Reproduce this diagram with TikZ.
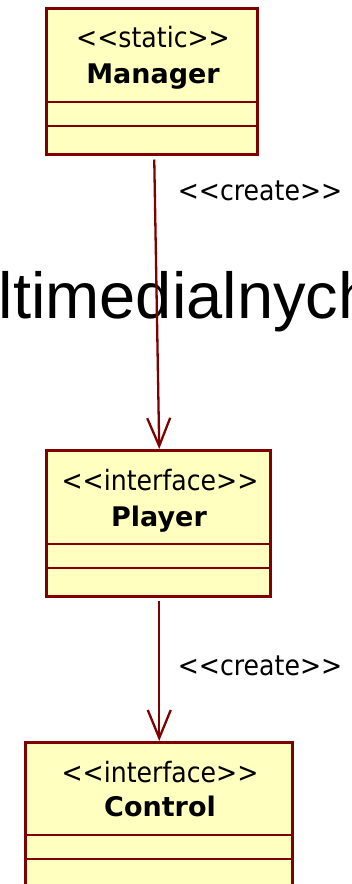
\documentclass[tikz,border=0pt]{standalone}
\usepackage{fontspec}
\newfontfamily\umlfont{DejaVu Sans Condensed}
\newfontfamily\umlboldfont{DejaVu Sans Bold}
\newfontfamily\bannerfont{Liberation Sans}
\usetikzlibrary{arrows.meta}
\definecolor{umlred}{RGB}{128,0,0}
\definecolor{umlfill}{RGB}{255,255,192}
\begin{document}
\begin{tikzpicture}[x=1pt,y=-1pt,
  classbox/.style={draw=umlred, fill=umlfill, line width=2.5pt, anchor=north west, inner sep=0pt},
  divider/.style={draw=umlred, line width=2.5pt},
  stereo/.style={font=\umlfont\fontsize{28}{33}\selectfont, inner sep=0pt, anchor=base},
  cname/.style={font=\umlboldfont\fontsize{27}{32}\selectfont, inner sep=0pt, anchor=base},
  dep/.style={draw=umlred, line width=2.3pt, -{Straight Barb[length=28pt,width=23pt]}},
  deplabel/.style={font=\umlfont\fontsize{28}{33}\selectfont, inner sep=0pt, anchor=base}
]
\useasboundingbox (0,0) rectangle (351,884);
\clip (0,0) rectangle (351,884);

% package name running behind the diagram
\node[inner sep=0pt, anchor=base west, font=\bannerfont\fontsize{65}{78}\selectfont] (pkg) at (-1.5,318) {ltimedialnych};

% Manager
\node[classbox, minimum width=211pt, minimum height=146pt] (mgr) at (45,7) {};
\node[stereo] (mgrst) at (153,47) {<<static>>};
\node[cname] (mgrnm) at (153,83) {Manager};
\draw[divider] (45,102) coordinate (mgrd1) -- ++(213,0);
\draw[divider] (45,126) coordinate (mgrd2) -- ++(213,0);

% Player
\node[classbox, minimum width=224pt, minimum height=146pt] (ply) at (45,449) {};
\node[stereo] (plyst) at (160,490) {<<interface>>};
\node[cname] (plynm) at (159,526) {Player};
\draw[divider] (45,544) coordinate (plyd1) -- ++(226,0);
\draw[divider] (45,568) coordinate (plyd2) -- ++(226,0);

% Control
\node[classbox, minimum width=267pt, minimum height=200pt] (ctl) at (24,741) {};
\node[stereo] (ctlst) at (160,782) {<<interface>>};
\node[cname] (ctlnm) at (160,816) {Control};
\draw[divider] (24,835) coordinate (ctld1) -- ++(269,0);
\draw[divider] (24,859) coordinate (ctld2) -- ++(269,0);

% dependencies
\draw[dep] ([xshift=2.5pt,yshift=-4pt]mgr.south) -- ([xshift=1pt]ply.north);
\node[deplabel] (lab1) at (260,200) {<<create>>};
\draw[dep] ([xshift=1pt,yshift=-3pt]ply.south) -- ([xshift=0.5pt]ctl.north);
\node[deplabel] (lab2) at (260,675) {<<create>>};
\end{tikzpicture}
\end{document}
